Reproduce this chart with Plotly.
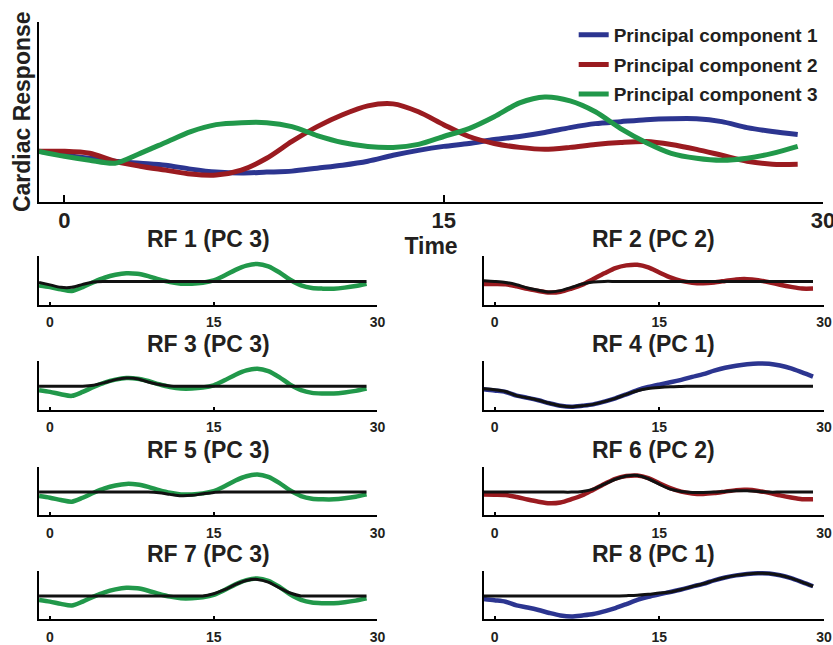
import plotly.graph_objects as go

# ---------------- data ----------------
time = [-1, 0, 1, 2, 3, 4, 5, 6, 7, 8, 9, 10, 11, 12, 13, 14, 15, 16, 17, 18, 19,
        20, 21, 22, 23, 24, 25, 26, 27, 28, 29]

# main panel principal components
pc1 = [0, -4, -7, -10, -12, -14, -18, -21, -22, -21, -20, -17, -14, -10, -4, 1,
       5, 8, 12, 15, 19, 24, 28, 30, 32, 33, 33, 30, 24, 20, 17]
pc2 = [0, 0, -2, -10, -15, -19, -23, -24, -19, -7, 10, 25, 37, 46, 48, 40,
       27, 15, 8, 4, 2, 4, 7, 9, 10, 7, 2, -4, -10, -13, -13]
pc3 = [0, -5, -9, -12, -2, 9, 20, 27, 29, 29, 25, 16, 9, 5, 4, 7,
       15, 23, 35, 49, 55, 51, 40, 23, 9, -2, -7, -9, -7, -2, 5]

# principal components as drawn in the small response-function panels
pc1_rf = [-3, -4.3, -5.8, -9.5, -11.7, -14.2, -17.2, -19.7, -20.7, -19.7, -18.3,
          -15.5, -12.2, -8.2, -4, -0.8, 1.7, 4, 6.5, 9.5, 12.3, 15.8, 18.7, 20.8,
          22.2, 23, 22.8, 21, 18, 14, 9.8]
pc2_rf = [-2.5, -2.7, -3, -5, -7.5, -9.7, -11.3, -10.5, -7.2, -3.2, 2.5, 8.2, 13.5,
          16.2, 16.8, 14.2, 9, 4, 0.5, -1.3, -1.8, -1, 0.5, 2, 2.3, 1.2, -0.8,
          -3.3, -5.5, -7.2, -7.2]
pc3_rf = [-4, -5.7, -8, -9.7, -5.7, -0.7, 3.7, 6.7, 8.3, 7.7, 5.3, 2, -0.7, -2.3,
          -2.3, -1.3, 1, 6, 11.7, 16, 17.7, 15.3, 9.3, 1.7, -4, -6.7, -7.3, -7.3,
          -6.3, -4.7, -2.3]

# fitted response functions (black)
rf1 = [-1, -3.5, -6, -6, -3, -0.5, 0, 0, 0, 0, 0, 0, 0, 0, 0, 0,
       0, 0, 0, 0, 0, 0, 0, 0, 0, 0, 0, 0, 0, 0, 0]
rf2 = [0.7, 0, -1, -3.3, -6.7, -9, -10.7, -9.3, -6, -2.7, -0.7, 0, 0, 0, 0, 0,
       0, 0, 0, 0, 0, 0, 0, 0, 0, 0, 0, 0, 0, 0, 0]
rf3 = [0, 0, 0, 0, 0, 1, 3.7, 6.7, 8.3, 7.7, 4.3, 1.7, 0.3, 0, 0, 0,
       0, 0, 0, 0, 0, 0, 0, 0, 0, 0, 0, 0, 0, 0, 0]
rf4 = [-2.5, -3.5, -5.3, -9.5, -11.7, -14.2, -17.2, -19.7, -20.7, -19.7, -18.3,
       -15.5, -12.2, -8.2, -4.5, -2.3, -1.2, -0.5, -0.2, 0, 0, 0, 0, 0, 0, 0,
       0, 0, 0, 0, 0]
rf5 = [0, 0, 0, 0, 0, 0, 0, 0, 0, 0, 0, -0.7, -2.3, -3.7, -3.3, -1.7,
       -0.3, 0, 0, 0, 0, 0, 0, 0, 0, 0, 0, 0, 0, 0, 0]
rf6 = [0, 0, 0, 0, 0, 0, 0, 0, 0, 0.7, 3, 8, 13, 16.2, 16.8, 13.5,
       8, 3, 0.7, -0.3, -0.3, 0, 0.7, 1.3, 1.3, 0.7, 0, 0, 0, 0, 0]
rf7 = [0, 0, 0, 0, 0, 0, 0, 0, 0, 0, 0, 0, 0, 0, 0, 0,
       2.3, 6.3, 11.7, 15.7, 16.7, 14, 8.3, 3, 0, 0, 0, 0, 0, 0, 0]
rf8 = [0, 0, 0, 0, 0, 0, 0, 0, 0, 0, 0, 0, 0, 0.3, 0.7, 1.7,
       3, 4, 6.5, 9.5, 12.3, 15.8, 18.7, 20.8, 22.2, 23, 22.8, 21, 18, 14, 9.8]

rf_titles = ["RF 1 (PC 3)", "RF 2 (PC 2)", "RF 3 (PC 3)", "RF 4 (PC 1)",
             "RF 5 (PC 3)", "RF 6 (PC 2)", "RF 7 (PC 3)", "RF 8 (PC 1)"]
rf_curves = [rf1, rf2, rf3, rf4, rf5, rf6, rf7, rf8]
rf_pc = [3, 2, 3, 1, 3, 2, 3, 1]

pc_names = ["Principal component 1", "Principal component 2", "Principal component 3"]
tick_vals = [0, 15, 30]
tick_text = ["0", "15", "30"]

# ---------------- styling ----------------
# target picture size; the photographed page is squeezed horizontally by S,
# so the page is laid out 1/S wider than the target
WT, HT = 833, 645
S = 0.985
W, H = WT / S, HT

BLUE, RED, GREEN = "#2c3590", "#9a1b20", "#21984a"
colors = [BLUE, RED, GREEN]
TXT = "#231f20"
FONT = "Liberation Sans"


def xd(a, b):
    return [a / WT, b / WT]


def yd(top, bottom):
    return [1 - bottom / HT, 1 - top / HT]


def px(a):
    return a / WT


def py(b):
    return 1 - b / HT


def fnt(size):
    return dict(family=FONT, size=size, color=TXT, weight="bold")


fig = go.Figure()

# main panel
for name, vals, col in zip(pc_names, [pc1, pc2, pc3], colors):
    fig.add_trace(go.Scatter(x=time, y=vals, mode="lines", name=name,
                             legendgroup=name,
                             line=dict(color=col, width=5, shape="spline",
                                       smoothing=0.8),
                             xaxis="x", yaxis="y"))

small_pcs = {1: pc1_rf, 2: pc2_rf, 3: pc3_rf}
for i, (curve, pc) in enumerate(zip(rf_curves, rf_pc)):
    ax = str(i + 2)
    fig.add_trace(go.Scatter(x=time, y=small_pcs[pc], mode="lines", showlegend=False,
                             line=dict(color=colors[pc - 1], width=4.5,
                                       shape="spline", smoothing=0.8),
                             xaxis="x" + ax, yaxis="y" + ax))
    fig.add_trace(go.Scatter(x=time, y=curve, mode="lines", showlegend=False,
                             line=dict(color="#111111", width=3, shape="spline",
                                       smoothing=0.8),
                             xaxis="x" + ax, yaxis="y" + ax))

layout = dict(
    width=W, height=H,
    margin=dict(l=0, r=0, t=0, b=0),
    paper_bgcolor="white", plot_bgcolor="white",
    font=fnt(14),
    showlegend=True,
    legend=dict(x=px(573), y=py(16), xanchor="left", yanchor="top",
                bgcolor="rgba(0,0,0,0)", tracegroupgap=2,
                font=fnt(19)),
)

axis_common = dict(showline=True, linecolor="black", linewidth=2, showgrid=False,
                   zeroline=False, mirror=False)

layout["xaxis"] = dict(axis_common, domain=xd(39, 822), range=[-1, 30],
                       tickvals=tick_vals, ticktext=tick_text, ticks="inside",
                       ticklen=7, tickwidth=2, tickcolor="black",
                       ticklabelstandoff=-2,
                       tickfont=fnt(22),
                       title=dict(text="Time", standoff=0, font=fnt(23)),
                       anchor="y")
layout["yaxis"] = dict(axis_common, domain=yd(22, 204), range=[-51, 131],
                       showticklabels=False, ticks="",
                       title=dict(text="Cardiac Response", standoff=0, font=fnt(23)),
                       anchor="x")

row_tops = [259, 365, 472, 577]
annotations = []
for i in range(8):
    ax = str(i + 2)
    col = i % 2
    row = i // 2
    x0, x1 = (39, 377) if col == 0 else (483, 823)
    top = row_tops[row]
    bottom = top + 49
    layout["xaxis" + ax] = dict(axis_common, domain=xd(x0, x1), range=[-1, 30],
                                tickvals=tick_vals, ticktext=tick_text, ticks="inside",
                                ticklen=3, tickwidth=2, tickcolor="black",
                                ticklabelstandoff=4,
                                tickfont=fnt(14),
                                anchor="y" + ax)
    layout["yaxis" + ax] = dict(axis_common, domain=yd(top, bottom),
                                range=[-23.5, 25.5], showticklabels=False, ticks="",
                                anchor="x" + ax)
    annotations.append(dict(text=rf_titles[i], xref="paper", yref="paper",
                            x=px((x0 + x1) / 2), y=py(top - 17),
                            xanchor="center", yanchor="middle", showarrow=False,
                            font=fnt(23)))
layout["annotations"] = annotations

fig.update_layout(**layout)
# remove the default page margin so the figure starts at the window's corner
fig.write_html("out.html",
               config={"displayModeBar": False},
               post_script="document.body.style.margin='0';"
                           "document.body.style.overflow='hidden';")
